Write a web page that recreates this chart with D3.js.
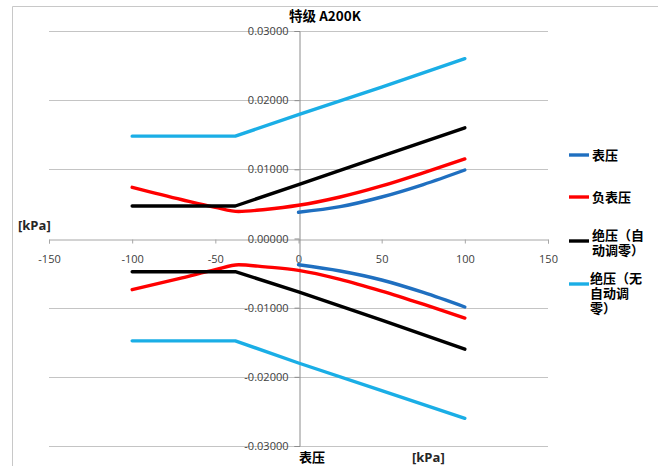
<!DOCTYPE html>
<html>
<head>
<meta charset="utf-8">
<script src="https://cdn.jsdelivr.net/npm/d3@7"></script>
<style>
  html, body { margin: 0; padding: 0; background: #fff; }
  svg { display: block; }
</style>
</head>
<body>
<svg id="chart" width="658" height="466"></svg>
<script>
// ---- data (kPa on x, error on y) ----
const xTicks = [-150, -100, -50, 0, 50, 100, 150];
const yTicks = [0.03, 0.02, 0.01, 0, -0.01, -0.02, -0.03];

// 表压 (gauge)
const gaugeKpa   = [0, 25, 50, 75, 100];
const gaugeUpper = [0.0038, 0.0046, 0.0060, 0.0078, 0.0099];
const gaugeLower = [-0.0038, -0.0047, -0.0060, -0.0078, -0.0099];

// 负表压 (negative gauge)
const negKpa   = [-100, -70, -50, -36, -20, 0, 25, 50, 75, 100];
const negUpper = [0.0074, 0.0056, 0.0045, 0.0039, 0.0042, 0.0048, 0.0060, 0.0076, 0.0095, 0.0115];
const negLower = [-0.0074, -0.0057, -0.0045, -0.0038, -0.0041, -0.0046, -0.0059, -0.0076, -0.0095, -0.0115];

// 绝压（自动调零）
const absZeroKpa   = [-100, -38, 0, 50, 100];
const absZeroUpper = [0.0047, 0.0047, 0.0078, 0.0119, 0.0160];
const absZeroLower = [-0.0048, -0.0048, -0.0077, -0.0118, -0.0160];

// 绝压（无自动调零）
const absRawKpa   = [-100, -38, 0, 50, 100];
const absRawUpper = [0.0148, 0.0148, 0.0179, 0.0219, 0.0260];
const absRawLower = [-0.0148, -0.0148, -0.0180, -0.0220, -0.0260];

const seriesNames  = ["表压", "负表压", ["绝压（自", "动调零）"], ["绝压（无", "自动调", "零）"]];
const seriesColors = ["#1f6fc0", "#ff0000", "#000000", "#1aaee6"];

const series = [
  { kpa: gaugeKpa,   lines: [gaugeUpper, gaugeLower],     curve: d3.curveMonotoneX },
  { kpa: negKpa,     lines: [negUpper, negLower],         curve: d3.curveMonotoneX },
  { kpa: absZeroKpa, lines: [absZeroUpper, absZeroLower], curve: d3.curveLinear },
  { kpa: absRawKpa,  lines: [absRawUpper, absRawLower],   curve: d3.curveLinear }
];

// ---- drawing ----
const svg = d3.select("#chart");
const x = d3.scaleLinear().domain([-150, 150]).range([49, 548]);
const y = d3.scaleLinear().domain([-0.03, 0.03]).range([446, 31]);

const numFont = "'Open Sans', 'Liberation Sans', sans-serif";
const cjkFont = "'Noto Sans CJK SC', 'Noto Sans', sans-serif";
// plain hyphen for negative numbers
const hyphen = f => d => f(d).replace("\u2212", "-");

// chart frame
svg.append("path")
  .attr("d", "M12.5,470 V6.5 H660")
  .attr("fill", "none").attr("stroke", "#c8c8c8").attr("stroke-width", 1);

// horizontal gridlines
svg.append("g").selectAll("line").data(yTicks.filter(d => d !== 0)).join("line")
  .attr("x1", x(-150)).attr("x2", x(150))
  .attr("y1", d => Math.round(y(d)) + 0.5).attr("y2", d => Math.round(y(d)) + 0.5)
  .attr("stroke", "#c4c4c4").attr("stroke-width", 1);

// x axis through zero
const xAxis = d3.axisBottom(x).tickValues(xTicks).tickSize(4).tickFormat(hyphen(d3.format("d")));
const gx = svg.append("g")
  .attr("transform", `translate(0,${Math.round(y(0)) + 0.5})`)
  .call(xAxis);
gx.select(".domain").attr("stroke", "#a6a6a6");
gx.selectAll(".tick line").attr("stroke", "#a6a6a6");
gx.selectAll(".tick text")
  .attr("y", 16)
  .attr("font-family", numFont).attr("font-size", 11).attr("fill", "#404040");

// y axis at kPa = 0
const yAxis = d3.axisLeft(y).tickValues(yTicks).tickSize(5).tickFormat(hyphen(d3.format(".5f")));
const gy = svg.append("g")
  .attr("transform", `translate(${Math.round(x(0)) + 0.5},0)`)
  .call(yAxis);
gy.select(".domain").attr("stroke", "#8c8c8c");
gy.selectAll(".tick line").attr("stroke", "#8c8c8c");
gy.selectAll(".tick text")
  .attr("x", -11)
  .attr("font-family", numFont).attr("font-size", 11).attr("fill", "#404040");

// series lines
series.forEach((s, i) => {
  s.lines.forEach(vals => {
    const pts = s.kpa.map((k, j) => [k, vals[j]]);
    const line = d3.line().x(d => x(d[0])).y(d => y(d[1])).curve(s.curve);
    svg.append("path")
      .attr("d", line(pts))
      .attr("fill", "none")
      .attr("stroke", seriesColors[i])
      .attr("stroke-width", 3.4)
      .attr("stroke-linejoin", "round")
      .attr("stroke-linecap", "round");
  });
});

// title
svg.append("text")
  .attr("x", 325).attr("y", 21)
  .attr("text-anchor", "middle")
  .attr("font-family", cjkFont).attr("font-size", 13.5).attr("font-weight", "bold")
  .attr("fill", "#000")
  .text("特级 A200K");

// axis captions
svg.append("text")
  .attr("x", 18).attr("y", 230)
  .attr("font-family", numFont).attr("font-size", 13).attr("font-weight", "bold")
  .attr("fill", "#262626").text("[kPa]");
svg.append("text")
  .attr("x", 299).attr("y", 462)
  .attr("font-family", cjkFont).attr("font-size", 13).attr("font-weight", "bold")
  .attr("fill", "#000").text("表压");
svg.append("text")
  .attr("x", 412).attr("y", 462)
  .attr("font-family", numFont).attr("font-size", 13).attr("font-weight", "bold")
  .attr("fill", "#262626").text("[kPa]");

// legend
const legendRows = [
  { lineY: 155, textY: [155] },
  { lineY: 197, textY: [197] },
  { lineY: 241, textY: [235, 250] },
  { lineY: 284, textY: [278, 293, 308] }
];
legendRows.forEach((r, i) => {
  svg.append("line")
    .attr("x1", 569).attr("x2", 589)
    .attr("y1", r.lineY).attr("y2", r.lineY)
    .attr("stroke", seriesColors[i]).attr("stroke-width", 3.4);
  const names = Array.isArray(seriesNames[i]) ? seriesNames[i] : [seriesNames[i]];
  names.forEach((n, j) => {
    svg.append("text")
      .attr("x", i === 3 ? 590 : 592)
      .attr("y", r.textY[j])
      .attr("dy", "0.36em")
      .attr("font-family", cjkFont).attr("font-size", 13).attr("font-weight", "bold")
      .attr("fill", "#000")
      .text(n);
  });
});
</script>
</body>
</html>
